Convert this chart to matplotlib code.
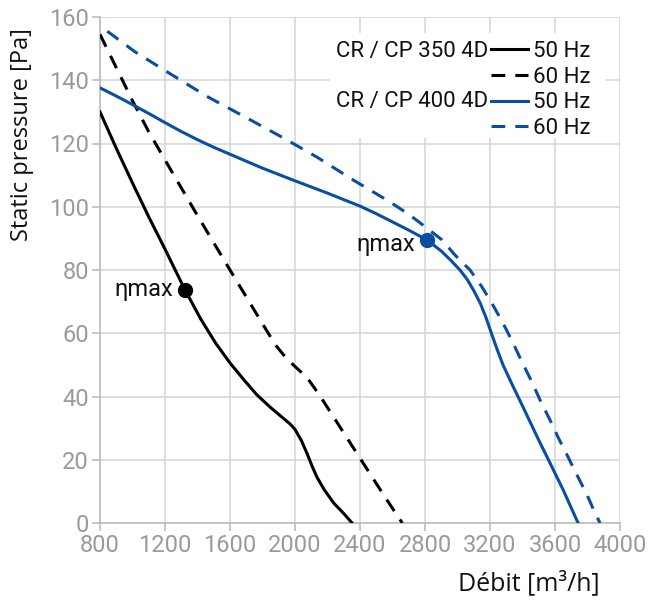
import matplotlib
matplotlib.use("Agg")
import matplotlib.pyplot as plt
from matplotlib.lines import Line2D
from matplotlib.patches import Rectangle

# CR / CP 350 4D
q350_50 = [800, 900, 1000, 1100, 1200, 1323, 1420, 1510, 1600, 1690, 1766, 1850,
           1926, 1970, 2000, 2040, 2074, 2105, 2135, 2180, 2240, 2300, 2351]
p350_50 = [130, 118.5, 107.5, 96.8, 86.6, 73.7, 64.5, 57, 50.6, 45, 40.5, 36.5,
           33.2, 31.3, 29.6, 26, 22, 18, 14.5, 10.5, 6.2, 3, 0]
q350_60 = [800, 900, 1000, 1100, 1200, 1300, 1400, 1500, 1600, 1700, 1800, 1880,
           1940, 2000, 2074, 2150, 2250, 2350, 2450, 2550, 2660]
p350_60 = [154.5, 144, 133.5, 123.7, 114.8, 106, 97.2, 88.6, 80, 71.5, 63, 56.3,
           52.5, 49.5, 46, 40.5, 32.5, 24.5, 16.5, 8.5, 0]

# CR / CP 400 4D
q400_50 = [800, 900, 1000, 1100, 1200, 1300, 1400, 1500, 1600, 1800, 2000, 2200,
           2400, 2500, 2600, 2700, 2812, 2900, 2960, 3015, 3060, 3100, 3140, 3175,
           3210, 3243, 3280, 3340, 3403, 3500, 3569, 3650, 3742]
p400_50 = [137.6, 135, 132.3, 129.5, 126.6, 123.8, 121.2, 118.8, 116.6, 112.2,
           108.2, 104.3, 100.2, 97.8, 95.2, 92.6, 89.5, 86, 83, 80, 77, 73.5, 69.5,
           65, 59.8, 55, 50, 43.4, 36.7, 26.2, 19, 10.5, 0]
q400_60 = [845, 1015, 1243, 1465, 1692, 1920, 2135, 2357, 2585, 2700, 2788, 2905,
           2985, 3077, 3151, 3218, 3280, 3342, 3397, 3458, 3508, 3569, 3618, 3680,
           3735, 3797, 3846, 3877]
p400_60 = [155.5, 149, 141.7, 134.7, 128.4, 122, 115.7, 108.5, 101.5, 97.6, 94.2,
           89.5, 84.7, 80, 74.6, 68.9, 63.2, 56.9, 50.9, 44.6, 38.9, 32.6, 27.2,
           20.9, 15.2, 8.9, 3.2, 0]

# points of max efficiency
eta_q = [1323, 2812]
eta_p = [73.7, 89.5]

xticks = [800, 1200, 1600, 2000, 2400, 2800, 3200, 3600, 4000]
yticks = [0, 20, 40, 60, 80, 100, 120, 140, 160]

black = "#000000"
blue = "#0a4ea3"
grid_c = "#d4d4d4"
tick_c = "#9a9a9a"
dash = (0, (4.5, 3.3))

fig = plt.figure(figsize=(6.49, 6.05), dpi=100)
ax = fig.add_axes([100/649, 1 - 523/605, 520/649, 506/605])

ax.plot(q350_50, p350_50, color=black, lw=2.2, zorder=3)
ax.plot(q350_60, p350_60, color=black, lw=2.2, ls=dash, zorder=3)
ax.plot(q400_50, p400_50, color=blue, lw=2.2, zorder=3)
ax.plot(q400_60, p400_60, color=blue, lw=2.2, ls=dash, zorder=3)

ax.plot(eta_q[0], eta_p[0], "o", color=black, ms=10, zorder=4)
ax.plot(eta_q[1], eta_p[1], "o", color=blue, ms=10, zorder=4)
ax.text(eta_q[0] - 75, eta_p[0], "ηmax", ha="right", va="center",
        fontsize=17, family="Roboto", color="#111111")
ax.text(eta_q[1] - 75, eta_p[1] - 1.5, "ηmax", ha="right", va="center",
        fontsize=17, family="Roboto", color="#111111")

ax.set_xlim(800, 4000)
ax.set_ylim(0, 160)
ax.set_xticks(xticks)
ax.set_yticks(yticks)
ax.grid(True, color=grid_c, lw=1.1, zorder=0)
ax.set_axisbelow(True)
for s in ["top", "right"]:
    ax.spines[s].set_visible(False)
for s in ["left", "bottom"]:
    ax.spines[s].set_color("#b8b8b8")
    ax.spines[s].set_linewidth(1.1)
ax.tick_params(colors="#b8b8b8", labelcolor=tick_c, length=6, width=1.1,
               labelsize=17, pad=2)
for lab in ax.get_xticklabels() + ax.get_yticklabels():
    lab.set_family("Roboto")

# white box behind the legend
ax.add_patch(Rectangle((330/649, 1 - 138/605), 275/649, 105/605,
                       transform=fig.transFigure, facecolor="white",
                       edgecolor="none", zorder=1))

handles = [Line2D([], [], color=black, lw=2.2),
           Line2D([], [], color=black, lw=2.2, ls=dash),
           Line2D([], [], color=blue, lw=2.2),
           Line2D([], [], color=blue, lw=2.2, ls=dash)]
labels = ["50 Hz", "60 Hz", "50 Hz", "60 Hz"]
leg = ax.legend(handles, labels, loc="upper left",
                bbox_to_anchor=(491/649, 1 - 41/605), bbox_transform=fig.transFigure,
                frameon=False, handlelength=1.67, handletextpad=0.23,
                labelspacing=0.21, borderpad=0, borderaxespad=0,
                prop={"family": "Roboto", "size": 16})
for t in leg.get_texts():
    t.set_color("#111111")

fig.text(488/649, 1 - 52/605, "CR / CP 350 4D", ha="right", va="center",
         fontsize=16, family="Roboto", color="#111111")
fig.text(488/649, 1 - 102/605, "CR / CP 400 4D", ha="right", va="center",
         fontsize=16, family="Roboto", color="#111111")

fig.text(22/649, 1 - 135/605, "Static pressure [Pa]", rotation=90,
         ha="center", va="center", fontsize=17, family="Open Sans", color="#111111")
fig.text(600/649, 1 - 583/605, "Débit [m³/h]", ha="right", va="center",
         fontsize=18, family="Open Sans", color="#111111")

fig.savefig("out.png", dpi=100)
